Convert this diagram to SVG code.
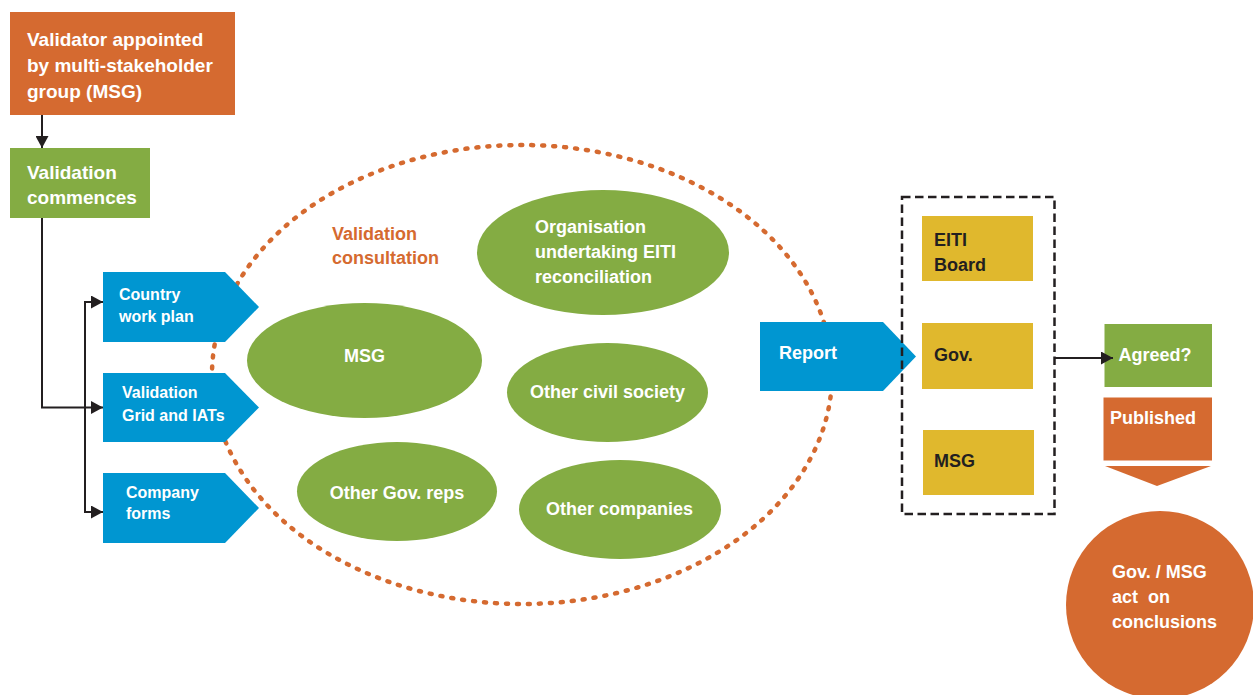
<svg xmlns="http://www.w3.org/2000/svg" width="1253" height="695" viewBox="0 0 1253 695">
<style>
text{font-family:"Liberation Sans",Arial,sans-serif;font-weight:bold}
.w{fill:#ffffff}
.d{fill:#231f20}
.o{fill:#d56a30}
.org{fill:#d56a30}
.grn{fill:#84ac43}
.blu{fill:#0096d1}
.yel{fill:#e0b82d}
.t19{font-size:19px}
.t18{font-size:18px}
.t16{font-size:16px}
.conn{fill:none;stroke:#231f20;stroke-width:2}
</style>
<defs>
<marker id="ah" viewBox="0 0 12 13" refX="12" refY="6.5" markerWidth="12" markerHeight="13" markerUnits="userSpaceOnUse" orient="auto">
<path d="M0,0 L12,6.5 L0,13 Z" fill="#231f20"/>
</marker>
</defs>
<rect width="1253" height="695" fill="#ffffff"/>

<g id="consultation">
<ellipse cx="522" cy="374.5" rx="310" ry="229.5" fill="none" stroke="#d56a30" stroke-width="4.5" stroke-linecap="round" stroke-dasharray="2 9"/>
<text class="o t18" x="332" y="240">Validation</text>
<text class="o t18" x="332" y="264">consultation</text>
</g>

<g id="validator">
<rect class="org" x="10" y="12" width="225" height="103"/>
<text class="w t19" x="27" y="45.5">Validator appointed</text>
<text class="w t19" x="27" y="72">by multi-stakeholder</text>
<text class="w t19" x="27" y="97.5">group (MSG)</text>
</g>

<g id="commences">
<rect class="grn" x="10" y="148" width="140" height="70"/>
<text class="w t19" x="27" y="179">Validation</text>
<text class="w t19" x="27" y="204">commences</text>
</g>

<g id="workplan">
<polygon class="blu" points="103,272 225,272 259,307 225,342 103,342"/>
<text class="w t16" x="119" y="300">Country</text>
<text class="w t16" x="119" y="322">work plan</text>
</g>

<g id="grid">
<polygon class="blu" points="103,373 225,373 259,407.5 225,442 103,442"/>
<text class="w t16" x="122" y="398">Validation</text>
<text class="w t16" x="122" y="421">Grid and IATs</text>
</g>

<g id="forms">
<polygon class="blu" points="103,473 225,473 259,508 225,543 103,543"/>
<text class="w t16" x="126" y="498">Company</text>
<text class="w t16" x="126" y="519">forms</text>
</g>

<g id="org-eiti">
<ellipse class="grn" cx="603" cy="252.5" rx="126" ry="62.5"/>
<text class="w t18" x="535" y="233">Organisation</text>
<text class="w t18" x="535" y="258">undertaking EITI</text>
<text class="w t18" x="535" y="283">reconciliation</text>
</g>

<g id="msg-ellipse">
<ellipse class="grn" cx="364.5" cy="360.5" rx="117.5" ry="57.5"/>
<text class="w t18" x="364.5" y="362" text-anchor="middle">MSG</text>
</g>

<g id="civil">
<ellipse class="grn" cx="607.5" cy="392.5" rx="100.5" ry="49.5"/>
<text class="w t18" x="607.5" y="397.5" text-anchor="middle">Other civil society</text>
</g>

<g id="govreps">
<ellipse class="grn" cx="397" cy="491.5" rx="100" ry="49.5"/>
<text class="w t18" x="397" y="499" text-anchor="middle">Other Gov. reps</text>
</g>

<g id="companies">
<ellipse class="grn" cx="620" cy="509.5" rx="101" ry="49.5"/>
<text class="w t18" x="619.5" y="515" text-anchor="middle">Other companies</text>
</g>

<g id="report">
<polygon class="blu" points="760,322 883,322 916,356.5 883,391 760,391"/>
<text class="w t18" x="779" y="359">Report</text>
</g>

<g id="reviewers">
<rect x="902" y="197" width="152.5" height="317" fill="none" stroke="#231f20" stroke-width="2.5" stroke-dasharray="8.5 4.5"/>
</g>

<g id="eiti-board">
<rect class="yel" x="922" y="216" width="111" height="65"/>
<text class="d t18" x="934" y="245.5">EITI</text>
<text class="d t18" x="934" y="270.5">Board</text>
</g>

<g id="gov">
<rect class="yel" x="922" y="323" width="111" height="66"/>
<text class="d t18" x="934" y="360.5">Gov.</text>
</g>

<g id="msg-box">
<rect class="yel" x="923" y="430" width="111" height="65"/>
<text class="d t18" x="934" y="467">MSG</text>
</g>

<g id="agreed">
<rect class="grn" x="1104.5" y="324" width="107.5" height="63"/>
<text class="w t18" x="1118.5" y="361">Agreed?</text>
</g>

<g id="published">
<rect class="org" x="1103.5" y="397.5" width="108.5" height="63"/>
<text class="w t18" x="1110" y="424">Published</text>
<polygon class="org" points="1105,466 1211,466 1157,486"/>
</g>

<g id="act">
<circle class="org" cx="1160" cy="605" r="94"/>
<text class="w t18" x="1112" y="578">Gov. / MSG</text>
<text class="w t18" x="1112" y="603" xml:space="preserve">act  on</text>
<text class="w t18" x="1112" y="628">conclusions</text>
</g>

<g id="connectors">
<path class="conn" d="M42,115 V148" marker-end="url(#ah)"/>
<path class="conn" d="M42,218 V407.5 H103" marker-end="url(#ah)"/>
<path class="conn" d="M85,407.5 V302 H103" marker-end="url(#ah)"/>
<path class="conn" d="M85,407.5 V512 H103" marker-end="url(#ah)"/>
<path class="conn" d="M1055,358 H1113" marker-end="url(#ah)"/>
</g>
</svg>
